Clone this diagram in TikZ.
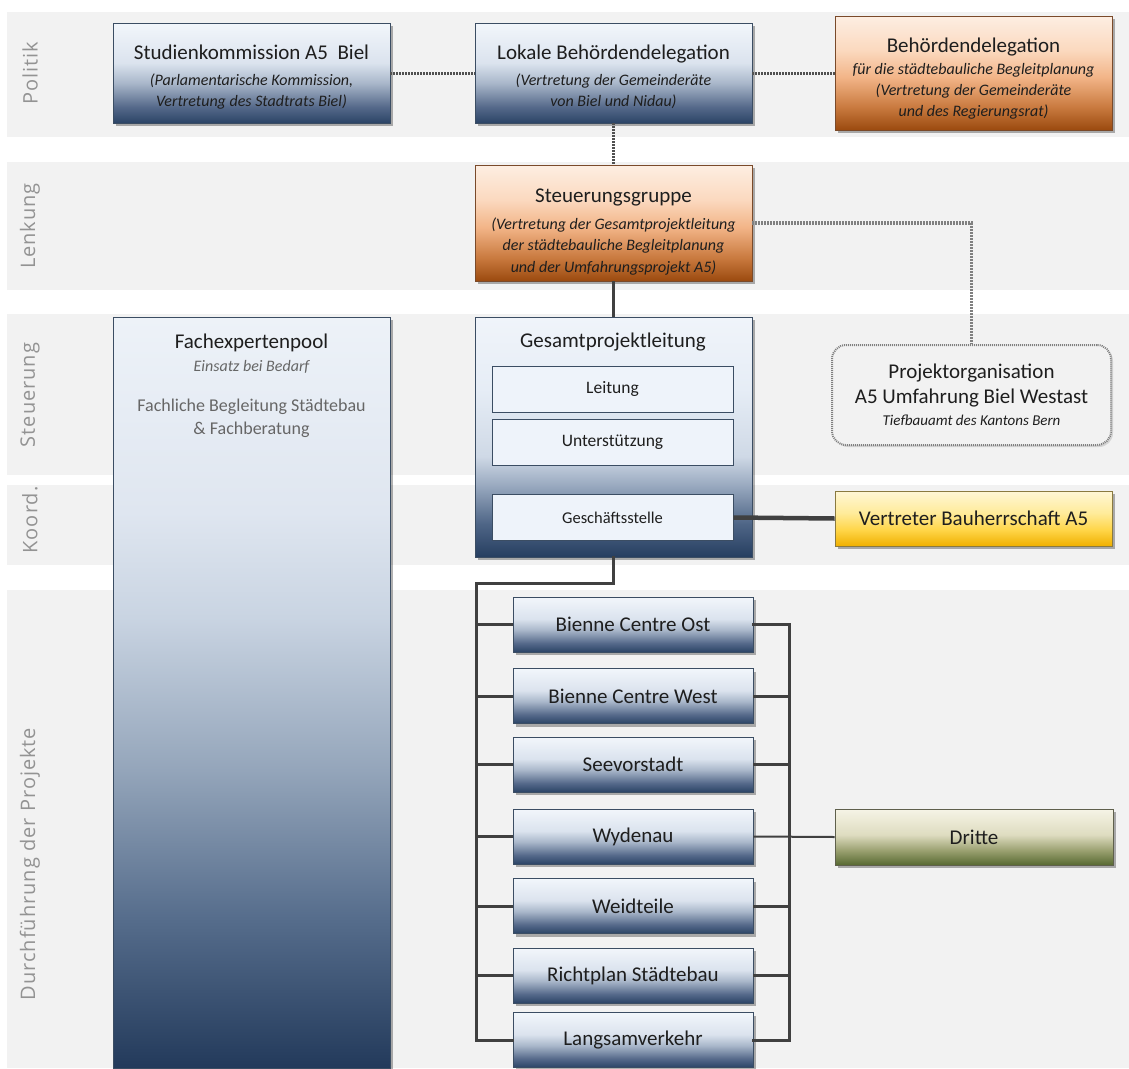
\documentclass[tikz,border=0pt]{standalone}
\usepackage{fontspec}
\setmainfont{Carlito}
\newfontfamily\lblfont[LetterSpace=5]{Open Sans}
\usetikzlibrary{shadows}
\definecolor{band}{HTML}{F2F2F2}
\definecolor{txt}{HTML}{1E1E1E}
\definecolor{subtxt}{HTML}{2A2A2A}
\definecolor{graytxt}{HTML}{666666}
\definecolor{lbltxt}{HTML}{939393}
\definecolor{bborder}{HTML}{3B4D63}
\definecolor{oborder}{HTML}{7A4A2A}
\definecolor{yborder}{HTML}{8A7A40}
\definecolor{gborder}{HTML}{5F604C}
\definecolor{conn}{HTML}{404040}
\definecolor{dotc}{HTML}{505050}
\definecolor{dotl}{HTML}{808080}
\definecolor{innerfill}{HTML}{EEF3FA}
% blue
\definecolor{bA}{HTML}{2B4466}\definecolor{bB}{HTML}{55698A}\definecolor{bC}{HTML}{A9B7CA}
\definecolor{bD}{HTML}{DBE3EE}\definecolor{bE}{HTML}{F2F6FB}
\pgfdeclareverticalshading{blueshade}{100bp}{color(0bp)=(bA); color(25bp)=(bA); color(33bp)=(bB); color(45bp)=(bC); color(55bp)=(bD); color(75bp)=(bE); color(100bp)=(bE)}
% gpl
\definecolor{gA}{HTML}{263E60}\definecolor{gB}{HTML}{4F6687}\definecolor{gC}{HTML}{9AAAC0}
\definecolor{gD}{HTML}{CFD9E6}\definecolor{gE}{HTML}{E6EDF6}\definecolor{gF}{HTML}{F0F4FA}
\pgfdeclareverticalshading{gplshade}{100bp}{color(0bp)=(gA); color(25bp)=(gA); color(32bp)=(gB); color(40bp)=(gC); color(46bp)=(gD); color(60bp)=(gE); color(75bp)=(gF); color(100bp)=(gF)}
% fep
\definecolor{fA}{HTML}{233A5B}\definecolor{fB}{HTML}{566D8C}\definecolor{fC}{HTML}{95A6BB}
\definecolor{fD}{HTML}{C9D4E2}\definecolor{fE}{HTML}{DFE6F0}\definecolor{fF}{HTML}{EDF2F8}
\pgfdeclareverticalshading{fepshade}{100bp}{color(0bp)=(fA); color(25bp)=(fA); color(35bp)=(fB); color(45bp)=(fC); color(55bp)=(fD); color(62bp)=(fE); color(75bp)=(fF); color(100bp)=(fF)}
% orange
\definecolor{oA}{HTML}{9B4A0F}\definecolor{oB}{HTML}{C97A3F}\definecolor{oC}{HTML}{F2B487}
\definecolor{oD}{HTML}{FBD9BF}\definecolor{oE}{HTML}{FDEEE2}
\pgfdeclareverticalshading{orangeshade}{100bp}{color(0bp)=(oA); color(25bp)=(oA); color(35bp)=(oB); color(48bp)=(oC); color(60bp)=(oD); color(75bp)=(oE); color(100bp)=(oE)}
% yellow
\definecolor{yA}{HTML}{F0B000}\definecolor{yB}{HTML}{FFD64A}\definecolor{yC}{HTML}{FFEB9A}\definecolor{yD}{HTML}{FFF7D6}
\pgfdeclareverticalshading{yellowshade}{100bp}{color(0bp)=(yA); color(25bp)=(yA); color(40bp)=(yB); color(55bp)=(yC); color(75bp)=(yD); color(100bp)=(yD)}
% green
\definecolor{vA}{HTML}{586A32}\definecolor{vB}{HTML}{9AA070}\definecolor{vC}{HTML}{DEDCC0}\definecolor{vD}{HTML}{F6F4E6}
\pgfdeclareverticalshading{greenshade}{100bp}{color(0bp)=(vA); color(25bp)=(vA); color(38bp)=(vB); color(52bp)=(vC); color(75bp)=(vD); color(100bp)=(vD)}
\newcommand\mytitle{\fontsize{21}{25}\selectfont}
\newcommand\mysub{\fontsize{16}{21}\selectfont\itshape}
\newcommand\myinner{\fontsize{17.5}{21}\selectfont}
\newcommand\pushdown[1]{\rule{0pt}{#1}}
\begin{document}
\begin{tikzpicture}[x=1pt,y=-1pt,
  shad/.style={drop shadow={shadow xshift=3pt,shadow yshift=-3pt,opacity=0.3,fill=black}},
  box/.style={draw=bborder,line width=0.9pt,inner sep=0pt,align=center,text=txt,shad,
    font=\fontsize{16}{21}\selectfont},
  bluebox/.style={box,shading=blueshade},
  orangebox/.style={box,draw=oborder,shading=orangeshade},
  innerbox/.style={draw=bborder,line width=0.9pt,fill=innerfill,inner sep=0pt,
    minimum width=241pt,minimum height=46pt,font=\myinner,text=txt},
  projbox/.style={bluebox,minimum width=240pt,minimum height=55pt,font=\mytitle},
  txtnode/.style={inner sep=0pt,text height=0.65em,text depth=0.2em,align=center},
  lbl/.style={rotate=90,inner sep=0pt,text=lbltxt,font=\lblfont\fontsize{20}{24}\selectfont},
  solidc/.style={draw=conn,line width=3pt},
  dotdark/.style={draw=dotc,line width=3pt,dash pattern=on 1.5pt off 1.5pt},
  dotlight/.style={draw=dotl,line width=3.5pt,dash pattern=on 2pt off 1pt}
]
\useasboundingbox (0,0) rectangle (1129,1068);
\fill[white] (0,0) rectangle (1129,1068);
% bands
\fill[band] (7,12) rectangle (1129,137);
\fill[band] (7,162) rectangle (1129,290);
\fill[band] (7,314) rectangle (1129,475);
\fill[band] (7,485) rectangle (1129,565);
\fill[band] (7,590) rectangle (1129,1068);
% band labels
\node[lbl] (lPol) at (30,73) {Politik};
\node[lbl] (lLen) at (30,226) {Lenkung};
\node[lbl] (lSte) at (30,395) {Steuerung};
\node[lbl] (lKoo) at (30,520) {Koord.};
\node[lbl] (lDur) at (30,864) {Durchführung der Projekte};
% Politik
\node[bluebox,minimum width=277pt,minimum height=100pt] (studien) at (251.5,73)
  {{\mytitle\pushdown{22pt}Studienkommission A5\ \ Biel}\\[5pt]{\mysub (Parlamentarische Kommission,}\\{\mysub Vertretung des Stadtrats Biel)}};
\node[bluebox,minimum width=277pt,minimum height=100pt] (lokale) at (613.5,73)
  {{\mytitle\pushdown{22pt}Lokale Behördendelegation}\\[5pt]{\mysub (Vertretung der Gemeinderäte}\\{\mysub von Biel und Nidau)}};
\node[orangebox,minimum width=277pt,minimum height=114pt] (behoerden) at (973.5,73)
  {{\mytitle\pushdown{26pt}Behördendelegation}\\[1pt]{\mysub für die städtebauliche Begleitplanung}\\{\mysub (Vertretung der Gemeinderäte}\\{\mysub und des Regierungsrat)}};
% Lenkung
\node[orangebox,minimum width=277pt,minimum height=116pt] (steuer) at (613.5,223)
  {{\mytitle\pushdown{31pt}Steuerungsgruppe}\\[6pt]{\mysub (Vertretung der Gesamtprojektleitung}\\[0.5pt]{\mysub der städtebauliche Begleitplanung}\\[0.5pt]{\mysub und der Umfahrungsprojekt A5)}};
% Steuerung
\node[box,shading=fepshade,minimum width=277pt,minimum height=751pt] (fep) at (251.5,692.5) {};
\node[txtnode,font=\mytitle,text=txt] (fepT) at (251.5,346) {Fachexpertenpool};
\node[txtnode,font=\mysub,text=graytxt] (fepS) at (251.5,369) {Einsatz bei Bedarf};
\node[txtnode,font=\fontsize{18}{22}\selectfont,text=graytxt] (fepA) at (251.5,409) {Fachliche Begleitung Städtebau};
\node[txtnode,font=\fontsize{18}{22}\selectfont,text=graytxt] (fepB) at (251.5,432) {\& Fachberatung};
\node[box,shading=gplshade,minimum width=277pt,minimum height=240pt] (gpl) at (613.5,437) {};
\node[txtnode,font=\mytitle,text=txt] (gplT) at (613,345) {Gesamtprojektleitung};
\node[innerbox] (leitung) at (612.5,389) {Leitung};
\node[innerbox] (unter) at (612.5,442) {Unterstützung};
\node[innerbox,font=\fontsize{16.5}{20}\selectfont] (gs) at (612.5,517.5) {Geschäftsstelle};
\node[draw=dotl,line width=2pt,dash pattern=on 1pt off 1pt,rounded corners=14pt,fill=band,
  minimum width=279pt,minimum height=100pt,inner sep=0pt,align=center,text=txt,
  drop shadow={shadow xshift=2pt,shadow yshift=-2pt,opacity=0.12,fill=black},
  font=\fontsize{15}{20}\selectfont] (projorg) at (971.5,395)
  {{\mytitle Projektorganisation}\\[5pt]{\mytitle A5 Umfahrung Biel Westast}\\[2pt]{\itshape Tiefbauamt des Kantons Bern}};
% Koord
\node[box,draw=yborder,shading=yellowshade,minimum width=277pt,minimum height=55pt,font=\mytitle] (vertreter) at (973.5,518.5) {Vertreter Bauherrschaft A5};
% Projekte
\node[projbox] (p1) at (633,624.5) {Bienne Centre Ost};
\node[projbox] (p2) at (633,696) {Bienne Centre West};
\node[projbox] (p3) at (633,764.5) {Seevorstadt};
\node[projbox] (p4) at (633,836.5) {Wydenau};
\node[projbox] (p5) at (633,906) {Weidteile};
\node[projbox] (p6) at (633,975.5) {Richtplan Städtebau};
\node[projbox] (p7) at (633,1040) {Langsamverkehr};
\node[box,draw=gborder,shading=greenshade,minimum width=278pt,minimum height=56pt,font=\mytitle] (dritte) at (974,837) {Dritte};
% connectors
\draw[dotdark] (studien.east) -- (lokale.west);
\draw[dotdark] (lokale.east) -- (lokale.east -| behoerden.west);
\draw[dotdark] (lokale.south) -- (steuer.north);
\draw[dotlight] (steuer.east) -| (projorg.north);
\draw[solidc,line width=3.5pt] (steuer.south) -- (gpl.north);
\draw[solidc,line width=4.5pt] (gs.east) -- (vertreter.west);
\coordinate (bl) at (476,583);
\coordinate (br) at (789,624.5);
\draw[solidc,line cap=rect] (gpl.south) |- (bl) -- (bl |- p7.west) -- (p7.west);
\foreach \i in {1,...,6} {\draw[solidc] (p\i.west) -- (p\i.west -| bl);}
\draw[solidc,line cap=rect] (p1.east) -- (p1.east -| br) -- (p7.east -| br) -- (p7.east);
\foreach \i in {2,3,5,6} {\draw[solidc] (p\i.east) -- (p\i.east -| br);}
\draw[draw=conn,line width=2pt] (p4.east) -- (dritte.west);
\end{tikzpicture}
\end{document}
